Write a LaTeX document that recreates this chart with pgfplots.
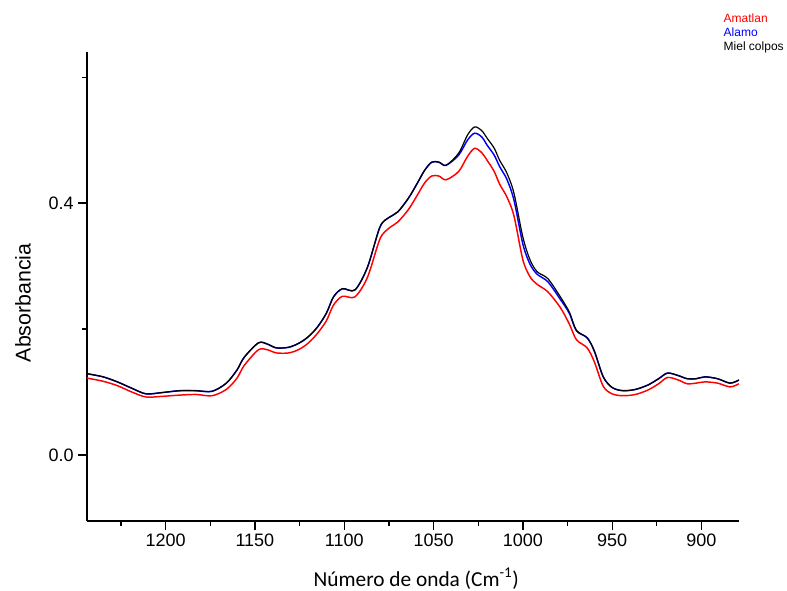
\documentclass[border=0pt]{standalone}
\usepackage{fontspec}
\setmainfont{Liberation Sans}
\newfontfamily\calibri{Carlito}
\usepackage{pgfplots}
\pgfplotsset{compat=1.18}

\pgfplotstableread{
x y
1244 0.122
1235 0.117
1227 0.110
1219 0.100
1211 0.092
1202 0.093
1192 0.095
1183 0.096
1174 0.094
1166 0.104
1160 0.122
1156 0.142
1148 0.167
1143 0.167
1138 0.162
1131 0.162
1125 0.168
1120 0.178
1115 0.193
1110 0.213
1106 0.238
1101 0.252
1094 0.251
1087 0.282
1080 0.343
1075 0.360
1070 0.370
1064 0.390
1059 0.413
1055 0.432
1051 0.443
1047 0.443
1043 0.437
1036 0.450
1031 0.474
1027 0.487
1023 0.480
1020 0.468
1016 0.450
1013 0.430
1009 0.410
1005 0.380
1000 0.310
996 0.283
992 0.271
986 0.259
979 0.234
974 0.208
970 0.183
964 0.170
960 0.148
955 0.109
950 0.097
944 0.094
937 0.096
930 0.103
924 0.113
919 0.123
913 0.119
908 0.113
903 0.114
898 0.116
891 0.114
884 0.108
879 0.113
}\amatlan

\pgfplotstableread{
x y
1244 0.129
1235 0.124
1227 0.116
1219 0.106
1211 0.097
1202 0.099
1192 0.102
1183 0.102
1174 0.101
1166 0.114
1160 0.135
1156 0.155
1148 0.178
1143 0.176
1138 0.170
1131 0.171
1125 0.178
1120 0.188
1115 0.203
1110 0.225
1106 0.251
1101 0.264
1094 0.262
1087 0.298
1080 0.362
1075 0.377
1070 0.386
1064 0.408
1059 0.432
1055 0.452
1051 0.465
1047 0.465
1043 0.460
1036 0.476
1031 0.500
1027 0.511
1023 0.505
1020 0.492
1016 0.476
1013 0.458
1009 0.438
1005 0.405
1000 0.335
996 0.303
992 0.287
986 0.275
979 0.247
974 0.225
970 0.197
964 0.186
960 0.165
955 0.124
950 0.107
944 0.102
937 0.104
930 0.111
924 0.121
919 0.130
913 0.126
908 0.121
903 0.121
898 0.124
891 0.121
884 0.114
879 0.119
}\alamo

\pgfplotstableread{
x y
1244 0.129
1235 0.124
1227 0.116
1219 0.106
1211 0.097
1202 0.099
1192 0.102
1183 0.102
1174 0.101
1166 0.114
1160 0.135
1156 0.155
1148 0.178
1143 0.176
1138 0.170
1131 0.171
1125 0.178
1120 0.188
1115 0.203
1110 0.225
1106 0.251
1101 0.264
1094 0.262
1087 0.298
1080 0.362
1075 0.377
1070 0.386
1064 0.408
1059 0.432
1055 0.452
1051 0.465
1047 0.465
1043 0.460
1036 0.479
1031 0.508
1027 0.521
1023 0.515
1020 0.503
1016 0.487
1013 0.468
1009 0.448
1005 0.416
1000 0.346
996 0.310
992 0.291
986 0.280
979 0.251
974 0.227
970 0.198
964 0.186
960 0.165
955 0.124
950 0.107
944 0.102
937 0.104
930 0.111
924 0.121
919 0.130
913 0.126
908 0.121
903 0.121
898 0.124
891 0.121
884 0.114
879 0.119
}\mielcolpos

\begin{document}
\begin{tikzpicture}
% page = 787 x 590 px at 0.75pt per px, axis box at (87..739, 52..521)
\path[use as bounding box] (-65.25pt,-51.75pt) rectangle (525pt,390.75pt);
\begin{axis}[
  scale only axis,
  width=489pt, height=351.75pt,
  x dir=reverse,
  xmin=879, xmax=1244,
  ymin=-0.105, ymax=0.64,
  axis x line*=bottom, axis y line*=left,
  axis line style={line width=1.2pt, -},
  tick align=outside,
  major tick length=6.5pt, minor tick length=3.5pt,
  tick style={line width=1pt, black},
  xtick={900,950,...,1200},
  minor xtick={925,975,...,1225},
  ytick={0,0.4},
  minor ytick={0.2,0.6},
  /pgf/number format/assume math mode=true,
  xticklabel style={/pgf/number format/set thousands separator={}, font=\fontsize{13.5}{14}\selectfont},
  yticklabel style={/pgf/number format/.cd, fixed, fixed zerofill, precision=1, /tikz/.cd, font=\fontsize{13.5}{14}\selectfont},
  xlabel={\calibri Número de onda (Cm\textsuperscript{-1})},
  xlabel style={font=\fontsize{16}{18}\selectfont, at={(axis description cs:0.505,0)}, anchor=north, yshift=-32pt},
  ylabel={Absorbancia},
  ylabel style={font=\fontsize{16}{18}\selectfont, at={(axis description cs:-0.098,0.465)}, anchor=center},
  legend style={draw=none, fill=none, at={(rel axis cs:0.972,1.088)}, anchor=north west,
    font=\fontsize{9}{9}\selectfont, row sep=-1.5pt, inner sep=0pt},
  legend cell align=left,
  legend image code/.code={},
]
\addplot[red, line width=1.1pt, smooth] table {\amatlan};
\addlegendentry{\textcolor{red}{Amatlan}}
\addplot[blue, line width=1.1pt, smooth] table {\alamo};
\addlegendentry{\textcolor{blue}{Alamo}}
\addplot[black, line width=0.9pt, smooth] table {\mielcolpos};
\addlegendentry{Miel colpos}
\end{axis}
\end{tikzpicture}
\end{document}
